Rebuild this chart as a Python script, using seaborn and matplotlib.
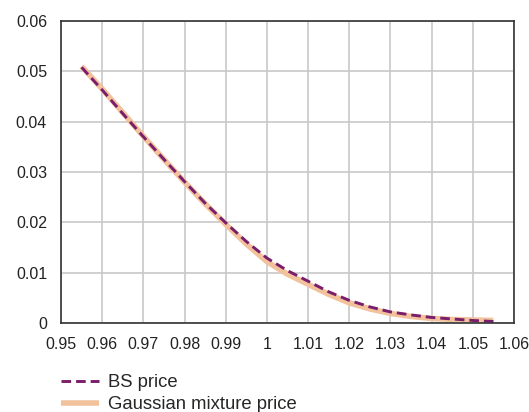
import matplotlib
matplotlib.use("Agg")
import matplotlib.pyplot as plt
import seaborn as sns
import pandas as pd

strikes = [0.955, 0.96, 0.965, 0.97, 0.975, 0.98, 0.985, 0.99, 0.995, 1.00, 1.005,
           1.01, 1.015, 1.02, 1.025, 1.03, 1.035, 1.04, 1.045, 1.05, 1.055]
bs_price = [0.0508, 0.0463, 0.0416, 0.0370, 0.0325, 0.0281, 0.0238, 0.0199, 0.0162,
            0.0129, 0.0104, 0.0083, 0.0062, 0.0045, 0.0032, 0.0022, 0.0016, 0.0011,
            0.0008, 0.0005, 0.0003]
gm_price = [0.0510, 0.0465, 0.0418, 0.0371, 0.0325, 0.0280, 0.0237, 0.0196, 0.0157,
            0.0122, 0.0097, 0.0077, 0.0057, 0.0040, 0.0028, 0.0019, 0.0013, 0.0009,
            0.0007, 0.0006, 0.0005]
x_ticks = [0.95, 0.96, 0.97, 0.98, 0.99, 1.00, 1.01, 1.02, 1.03, 1.04, 1.05, 1.06]
x_tick_labels = ["0.95", "0.96", "0.97", "0.98", "0.99", "1", "1.01", "1.02", "1.03",
                 "1.04", "1.05", "1.06"]
y_ticks = [0, 0.01, 0.02, 0.03, 0.04, 0.05, 0.06]
y_tick_labels = ["0", "0.01", "0.02", "0.03", "0.04", "0.05", "0.06"]

sns.set_style("white")
plt.rcParams['font.family'] = ['Liberation Sans', 'DejaVu Sans']

df = pd.DataFrame({"strike": strikes, "bs": bs_price, "gm": gm_price})

fig = plt.figure(figsize=(5.29, 4.12), dpi=100)
ax = fig.add_axes([61/529, 89/412, 453/529, 302/412])

sns.lineplot(data=df, x="strike", y="gm", ax=ax, color="#F2C29C", linewidth=4.0,
             label="Gaussian mixture price", solid_capstyle="butt")
sns.lineplot(data=df, x="strike", y="bs", ax=ax, color="#7A1E6C", linewidth=2.1,
             label="BS price", dashes=False)
ax.lines[-1].set_linestyle((0, (3.3, 1.7)))

ax.set_xlim(0.95, 1.06)
ax.set_ylim(0, 0.06)
ax.set_xticks(x_ticks)
ax.set_xticklabels(x_tick_labels, fontsize=11.5, color="#222222")
ax.set_yticks(y_ticks)
ax.set_yticklabels(y_tick_labels, fontsize=11.5, color="#222222")
ax.tick_params(axis="x", length=0, pad=10)
ax.tick_params(axis="y", length=0, pad=10)
ax.grid(True, color="#C8C8C8", linewidth=1.2)
ax.set_axisbelow(True)
for s in ax.spines.values():
    s.set_visible(True)
    s.set_color("#333333")
    s.set_linewidth(1.2)
ax.set_xlabel("")
ax.set_ylabel("")

handles, labels = ax.get_legend_handles_labels()
ax.get_legend().remove()
order = [1, 0]
fig.legend([handles[i] for i in order], [labels[i] for i in order],
           loc="lower left", bbox_to_anchor=(50/529, -0.03), frameon=False,
           fontsize=13.3, handlelength=2.05, labelspacing=0.28, handletextpad=0.5,
           borderaxespad=0.2)

fig.savefig("out.png", dpi=100)
